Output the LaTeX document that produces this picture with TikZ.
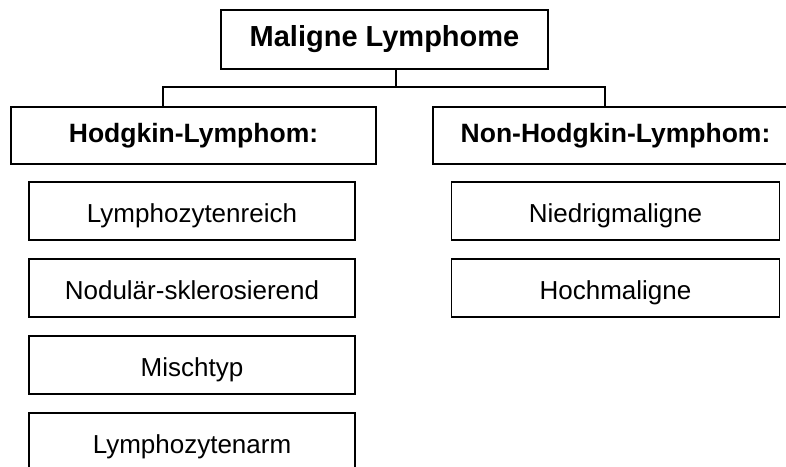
\documentclass[tikz,border=0pt]{standalone}
\usepackage{fontspec}
\setmainfont{Liberation Sans}
\usepackage{tikz}
\usetikzlibrary{positioning}

\begin{document}
\begin{tikzpicture}[x=1pt, y=-1pt, node distance=19pt, line width=1.2pt,
  every node/.style={font=\fontsize{26}{31}\selectfont, outer sep=0pt, inner sep=0pt},
  headbox/.style={draw, minimum width=365pt, minimum height=57pt, font=\fontsize{26.5}{31}\selectfont\bfseries},
  itembox/.style={draw, minimum height=58pt, text height=22pt, text depth=0pt}]

\clip (0,0) rectangle (786,466);

\node (main) [draw, minimum width=327pt, minimum height=59pt, font=\fontsize{29}{34}\selectfont\bfseries] at (384.5,39.5) {Maligne Lymphome};
\node (hodgkin) [headbox] at (193.5,135.5) {Hodgkin-Lymphom:};
\node (nonhodgkin) [headbox] at (615.5,135.5) {Non-Hodgkin-Lymphom:};

\node (lreich) [itembox, below=18pt of hodgkin, xshift=-1.5pt, minimum width=326pt] {Lymphozytenreich};
\node (nodular) [itembox, below=of lreich, minimum width=326pt] {Nodulär-sklerosierend};
\node (misch) [itembox, below=of nodular, minimum width=326pt] {Mischtyp};
\node (larm) [itembox, below=of misch, minimum width=326pt] {Lymphozytenarm};

\node (niedrig) [itembox, below=18pt of nonhodgkin, minimum width=328pt] {Niedrigmaligne};
\node (hoch) [itembox, below=of niedrig, minimum width=328pt] {Hochmaligne};

\draw ([xshift=11.5pt]main.south) -- ++(0,18) coordinate (fork);
\draw ([xshift=-30.5pt]hodgkin.north) |- (fork) -| ([xshift=-10.5pt]nonhodgkin.north);

\end{tikzpicture}
\end{document}
